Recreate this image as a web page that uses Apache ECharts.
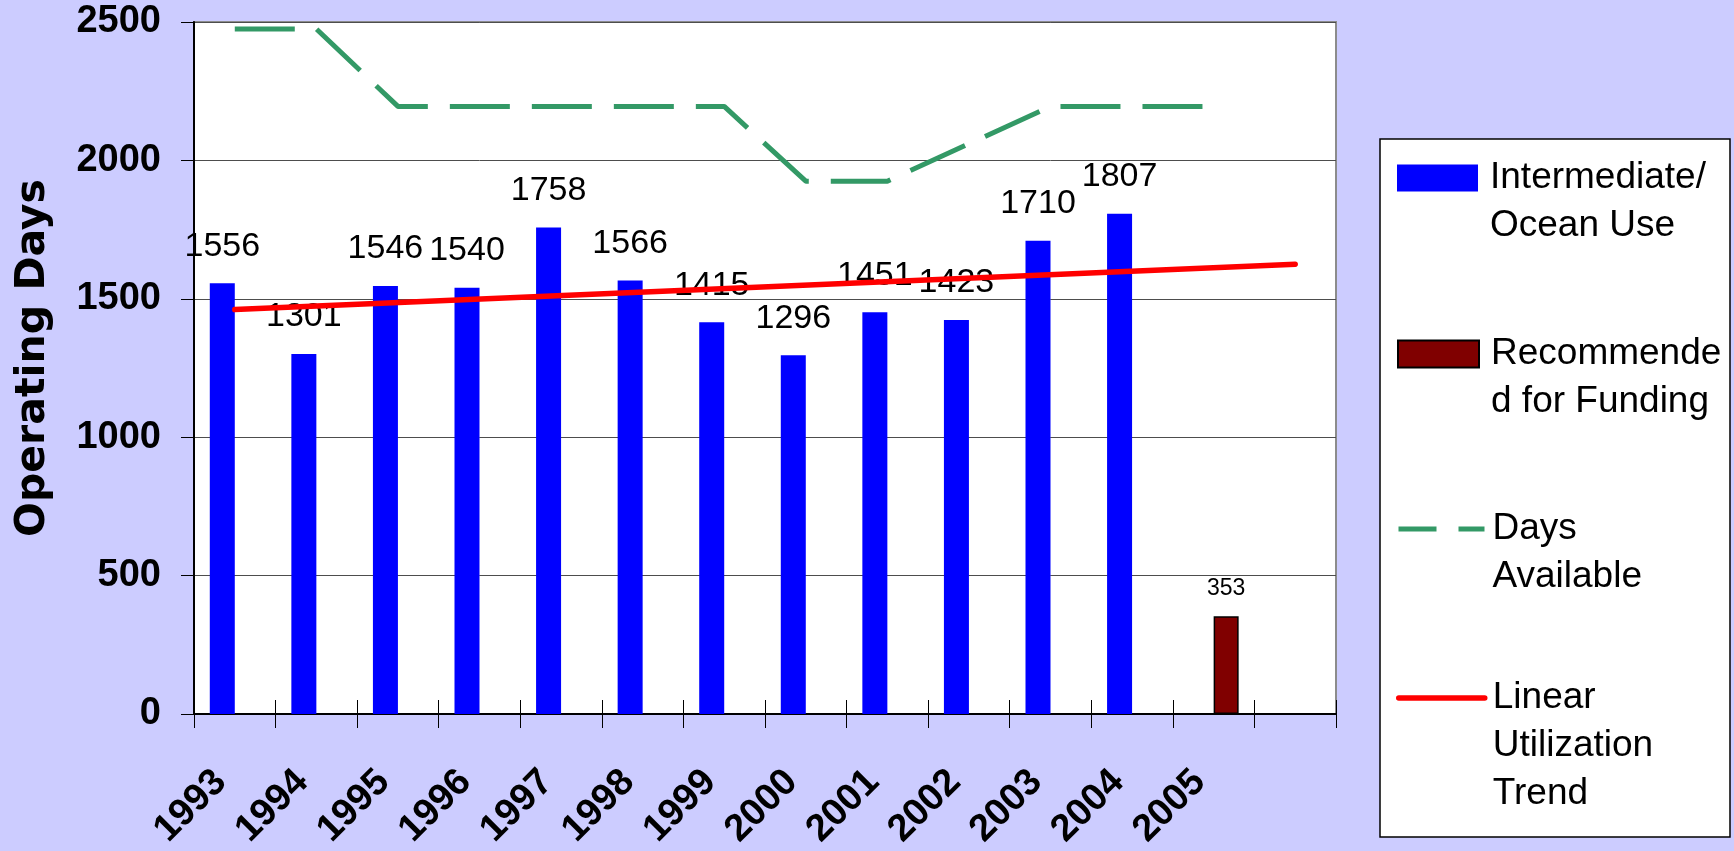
<!DOCTYPE html>
<html>
<head>
<meta charset="utf-8">
<title>Operating Days</title>
<script src="https://cdn.jsdelivr.net/npm/echarts@6/dist/echarts.min.js"></script>
<style>
html, body { margin: 0; padding: 0; background: #ccccff; }
#chart { width: 1734px; height: 851px; }
</style>
</head>
<body>
<div id="chart"></div>
<script>
// categories (last slot is empty, the trend runs into it)
var years = ['1993', '1994', '1995', '1996', '1997', '1998', '1999', '2000', '2001', '2002', '2003', '2004', '2005', ''];
var oceanUse = [1556, 1301, 1546, 1540, 1758, 1566, 1415, 1296, 1451, 1423, 1710, 1807, null, null];
var recommended = [null, null, null, null, null, null, null, null, null, null, null, null, 353, null];
var daysAvailable = [2475, 2475, 2195, 2195, 2195, 2195, 2195, 1925, 1925, 2060, 2195, 2195, 2195, null];
// trend line: read at both ends, straight in between
var trend = [1461, null, null, null, null, null, null, null, null, null, null, null, null, 1625];
var yMin = 0, yMax = 2500, yStep = 500;

var names = ['Intermediate/\nOcean Use', 'Recommende\nd for Funding', 'Days\nAvailable', 'Linear\nUtilization\nTrend'];

var chart = echarts.init(document.getElementById('chart'));

var LH = 48;
// one legend per entry so the icon sits on the first text line
function legendFor(name, lines, top, left, w, padLeft, extra) {
    var pre = '';
    for (var i = 1; i < lines; i++) pre += '\n';
    var lg = {
        orient: 'vertical',
        left: left,
        top: top,
        padding: 0,
        itemWidth: w,
        itemHeight: 27,
        data: [name],
        selectedMode: false,
        formatter: function (n) { return pre + n; },
        textStyle: {
            fontFamily: 'Liberation Sans',
            fontSize: 37,
            color: '#000',
            lineHeight: LH,
            padding: [0, 0, 0, padLeft],
            backgroundColor: 'rgba(255,255,255,0)'
        }
    };
    for (var k in extra) lg[k] = extra[k];
    return lg;
}

var option = {
    backgroundColor: '#ccccff',
    animation: false,
    graphic: [{
        type: 'rect',
        z: 0,
        shape: { x: 1380, y: 139, width: 350, height: 698 },
        style: { fill: '#fff', stroke: '#000', lineWidth: 1.5 }
    }],
    legend: [
        legendFor(names[0], 2, 106, 1397, 81, 7, { icon: 'rect' }),
        legendFor(names[1], 2, 282, 1397, 81, 7, { icon: 'rect' }),
        legendFor(names[2], 2, 457, 1396, 86, 3, {
            lineStyle: { type: [38, 22], width: 5 },
            itemStyle: { opacity: 0 }
        }),
        legendFor(names[3], 3, 578, 1396, 86, 3, {
            lineStyle: { width: 5.5 },
            itemStyle: { opacity: 0 }
        })
    ],
    grid: {
        left: 194,
        top: 22,
        right: 398,
        bottom: 137,
        outerBoundsMode: 'none',
        containLabel: false,
        show: true,
        backgroundColor: '#fff',
        borderColor: '#8c8c8c',
        borderWidth: 2
    },
    xAxis: [{
        type: 'category',
        data: years,
        boundaryGap: true,
        axisLine: { lineStyle: { color: '#000', width: 2 } },
        axisTick: { show: true, interval: 0, length: 14, lineStyle: { color: '#000', width: 1 } },
        axisLabel: {
            interval: 0,
            rotate: 45,
            margin: 48,
            padding: [0, 20, 0, 0],
            fontFamily: 'Liberation Sans',
            fontWeight: 'bold',
            fontSize: 38,
            color: '#000'
        }
    }, {
        // second copy only for the inner half of the crossing ticks
        type: 'category',
        data: years,
        position: 'bottom',
        boundaryGap: true,
        axisLine: { show: false },
        axisTick: { show: true, inside: true, interval: 0, length: 14, lineStyle: { color: '#000', width: 1 } },
        axisLabel: { show: false }
    }],
    yAxis: {
        type: 'value',
        min: yMin,
        max: yMax,
        interval: yStep,
        name: 'Operating Days',
        nameLocation: 'middle',
        nameGap: 140,
        nameTextStyle: {
            fontFamily: 'DejaVu Sans',
            fontWeight: 'bold',
            fontSize: 41,
            color: '#000',
            padding: [0, 0, 0, 20]
        },
        axisLine: { show: true, lineStyle: { color: '#000', width: 2 } },
        axisTick: { show: true, length: 13, lineStyle: { color: '#000', width: 1 } },
        axisLabel: {
            margin: 33,
            formatter: function (v) { return String(v); },
            fontFamily: 'Liberation Sans',
            fontWeight: 'bold',
            fontSize: 38,
            color: '#000'
        },
        splitLine: { lineStyle: { color: '#4d4d4d', width: 1 } }
    },
    series: [{
        name: names[0],
        type: 'bar',
        data: oceanUse,
        barWidth: 25,
        barGap: '0%',
        itemStyle: { color: '#0000ff' },
        label: {
            show: true,
            position: 'top',
            distance: 20,
            fontFamily: 'Liberation Sans',
            fontSize: 34,
            color: '#000'
        }
    }, {
        name: names[1],
        type: 'bar',
        data: recommended,
        barWidth: 25,
        barGap: '0%',
        itemStyle: { color: '#800000', borderColor: '#000', borderWidth: 1.5 },
        label: {
            show: true,
            position: 'top',
            distance: 16,
            fontFamily: 'Liberation Sans',
            fontSize: 23,
            color: '#000'
        }
    }, {
        name: names[2],
        type: 'line',
        data: daysAvailable,
        symbol: 'none',
        z: 3,
        lineStyle: { color: '#339966', width: 5, type: [60, 22] },
        itemStyle: { color: '#339966' }
    }, {
        name: names[3],
        type: 'line',
        data: trend,
        connectNulls: true,
        symbol: 'none',
        z: 4,
        lineStyle: { color: '#ff0000', width: 5.5, cap: 'round' },
        itemStyle: { color: '#ff0000' }
    }]
};

chart.setOption(option);
</script>
</body>
</html>
